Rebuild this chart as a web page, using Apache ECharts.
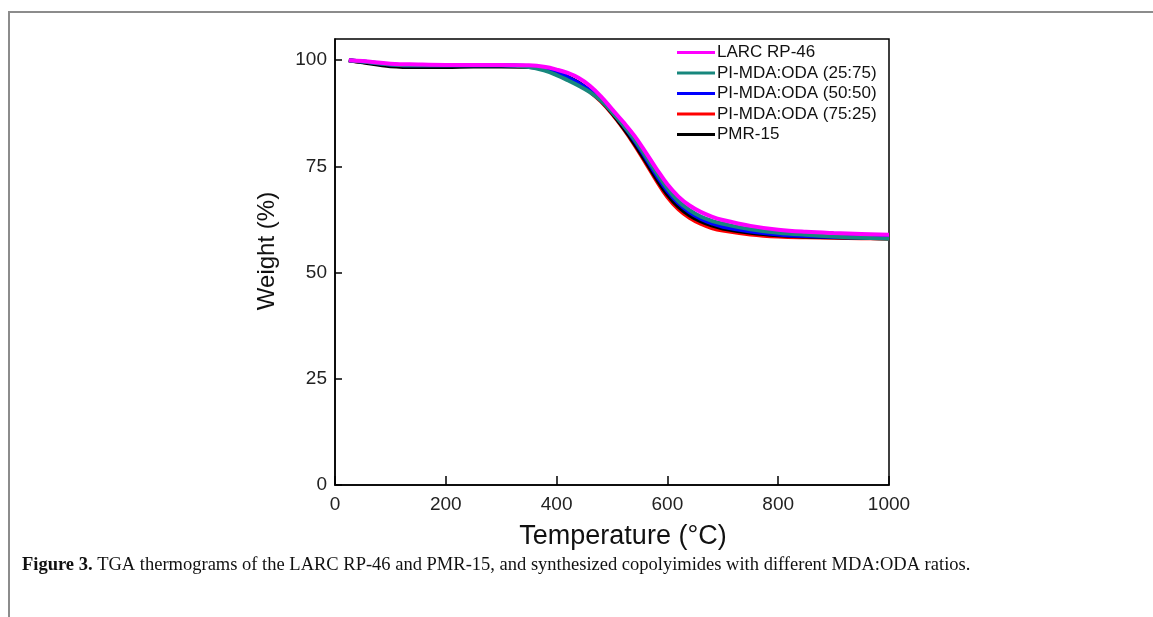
<!DOCTYPE html>
<html>
<head>
<meta charset="utf-8">
<script src="https://cdn.jsdelivr.net/npm/echarts@6/dist/echarts.min.js"></script>
<style>
  html, body { margin: 0; padding: 0; background: #fff; }
  #container { width: 1153px; height: 617px; }
</style>
</head>
<body>
<div id="container"></div>
<script>
// temperatures (°C) shared by all curves
var temps = [25, 50, 100, 150, 200, 250, 300, 350, 380, 400, 420, 440, 460, 480, 500, 520, 540, 560, 580, 600, 620, 640, 660, 680, 700, 750, 800, 850, 900, 950, 1000];

// weight (%)
var larc = [100, 99.8, 99.2, 99.0, 98.9, 98.9, 98.9, 98.8, 98.4, 97.8, 97.0, 95.8, 94.0, 91.5, 88.5, 85.5, 82.3, 78.5, 74.5, 70.8, 67.9, 65.8, 64.3, 63.2, 62.4, 61.0, 60.1, 59.6, 59.3, 59.1, 58.9];
var pi2575 = [100, 99.7, 99.0, 98.8, 98.8, 98.8, 98.8, 98.4, 97.5, 96.5, 95.3, 94.0, 92.5, 90.5, 87.8, 84.8, 81.5, 77.6, 73.6, 69.8, 66.8, 64.7, 63.2, 62.2, 61.5, 60.2, 59.4, 58.9, 58.5, 58.2, 58.0];
var pi5050 = [100, 99.7, 99.0, 98.8, 98.8, 98.8, 98.8, 98.6, 98.0, 97.2, 96.0, 94.6, 92.9, 90.8, 88.0, 84.8, 81.2, 77.2, 73.0, 69.2, 66.3, 64.2, 62.7, 61.6, 60.8, 59.7, 59.0, 58.6, 58.4, 58.3, 58.2];
var pi7525 = [100, 99.6, 98.9, 98.7, 98.7, 98.7, 98.7, 98.5, 97.9, 97.1, 96.0, 94.5, 92.6, 90.3, 87.4, 84.0, 80.2, 76.0, 71.7, 67.8, 64.9, 62.9, 61.5, 60.5, 59.9, 59.0, 58.5, 58.3, 58.2, 58.1, 58.0];
var pmr15 = [100, 99.5, 98.6, 98.4, 98.4, 98.5, 98.5, 98.4, 97.9, 97.2, 96.1, 94.7, 92.8, 90.5, 87.6, 84.2, 80.5, 76.4, 72.2, 68.4, 65.5, 63.5, 62.1, 61.1, 60.4, 59.4, 58.8, 58.5, 58.3, 58.2, 58.1];

var names = ['LARC RP-46', 'PI-MDA:ODA (25:75)', 'PI-MDA:ODA (50:50)', 'PI-MDA:ODA (75:25)', 'PMR-15'];
var xTicks = [0, 200, 400, 600, 800, 1000];
var yTicks = [0, 25, 50, 75, 100];

var colors = ['#ff00ff', '#17877d', '#0000ff', '#ff0000', '#000000'];
var seriesData = [larc, pi2575, pi5050, pi7525, pmr15];
var zOrder = [7, 6, 5, 3, 4];

var myChart = echarts.init(document.getElementById('container'));

var series = [];
for (var i = 0; i < names.length; i++) {
  var pts = [];
  for (var j = 0; j < temps.length; j++) {
    pts.push([temps[j], seriesData[i][j]]);
  }
  series.push({
    name: names[i],
    type: 'line',
    data: pts,
    smooth: 0.4,
    showSymbol: false,
    z: zOrder[i],
    lineStyle: { color: colors[i], width: 4 },
    itemStyle: { color: colors[i] }
  });
}

var option = {
  backgroundColor: '#fff',
  animation: false,
  grid: {
    left: 335,
    top: 39,
    width: 554,
    height: 446,
    show: true,
    borderColor: '#000',
    borderWidth: 1.5,
    backgroundColor: 'transparent'
  },
  legend: {
    orient: 'vertical',
    left: 677,
    top: 44,
    padding: 0,
    icon: 'rect',
    itemWidth: 38,
    itemHeight: 3,
    itemGap: 3.5,
    data: names,
    textStyle: { fontFamily: 'Liberation Sans', fontSize: 17, color: '#111', padding: [0, 0, 0, -3] }
  },
  xAxis: {
    type: 'value',
    min: 0,
    max: 1000,
    interval: 200,
    name: 'Temperature (\u00B0C)',
    nameLocation: 'middle',
    nameGap: 38,
    nameTextStyle: { fontFamily: 'Liberation Sans', fontSize: 27, color: '#111', padding: [0, 0, 0, 22] },
    axisLine: { lineStyle: { color: '#000', width: 1.5 } },
    axisTick: { inside: true, length: 9, lineStyle: { color: '#000', width: 1.5 }, customValues: xTicks },
    axisLabel: {
      margin: 10, fontFamily: 'Liberation Sans', fontSize: 19, color: '#222', customValues: xTicks,
      formatter: function (v) { return String(v); }
    },
    splitLine: { show: false }
  },
  yAxis: {
    type: 'value',
    min: 0,
    max: 105,
    interval: 25,
    name: 'Weight (%)',
    nameLocation: 'middle',
    nameGap: 56,
    nameTextStyle: { fontFamily: 'Liberation Sans', fontSize: 24, color: '#111', padding: [0, 0, 0, 22] },
    axisLine: { lineStyle: { color: '#000', width: 1.5 } },
    axisTick: { inside: true, length: 7, lineStyle: { color: '#000', width: 1.5 }, customValues: yTicks },
    axisLabel: {
      margin: 8, fontFamily: 'Liberation Sans', fontSize: 19, color: '#222', customValues: yTicks,
      formatter: function (v) { return String(v); }
    },
    splitLine: { show: false }
  },
  graphic: [
    { type: 'line', shape: { x1: 8, y1: 12, x2: 1153, y2: 12 }, style: { stroke: '#8c8c8c', lineWidth: 2 } },
    { type: 'line', shape: { x1: 9, y1: 12, x2: 9, y2: 617 }, style: { stroke: '#8c8c8c', lineWidth: 2 } },
    {
      type: 'text',
      left: 22,
      top: 556,
      style: {
        text: '{b|Figure 3.} TGA thermograms of the LARC RP-46 and PMR-15, and synthesized copolyimides with different MDA:ODA ratios.',
        font: '18.5px "Liberation Serif"',
        fill: '#111',
        rich: {
          b: { fontWeight: 'bold', fontFamily: 'Liberation Serif', fontSize: 18.5, fill: '#111' }
        }
      }
    }
  ],
  series: series
};

myChart.setOption(option);
</script>
</body>
</html>
